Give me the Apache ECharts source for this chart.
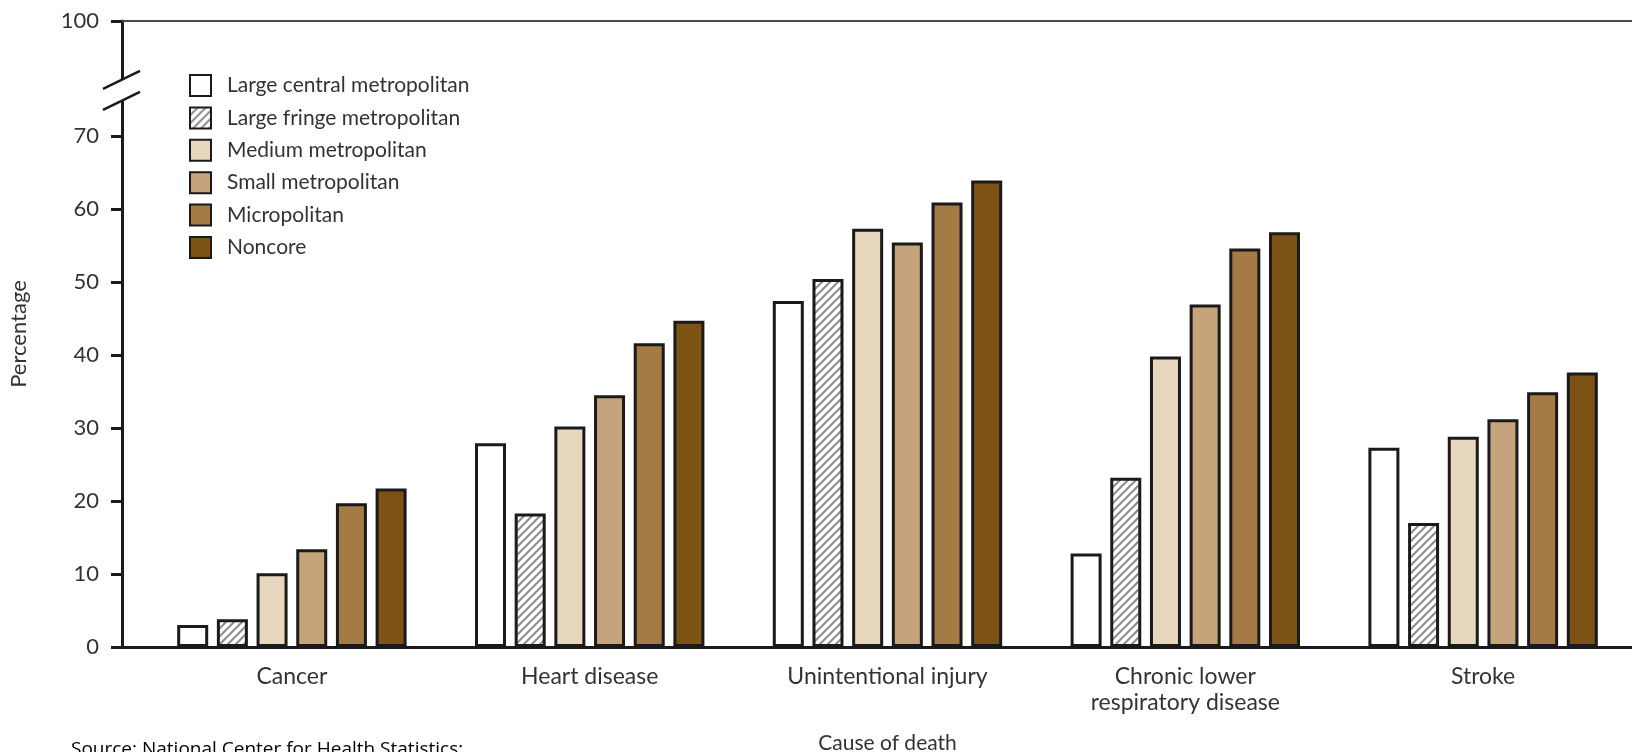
<!DOCTYPE html>
<html><head><meta charset="utf-8">
<script src="https://cdn.jsdelivr.net/npm/echarts@6/dist/echarts.min.js"></script>
<style>html,body{margin:0;padding:0;background:#fff}#c{width:1632px;height:752px}</style>
</head><body><div id="c"></div>
<script>
const categories = ['Cancer', 'Heart disease', 'Unintentional injury', 'Chronic lower\nrespiratory disease', 'Stroke'];
const seriesNames = ['Large central metropolitan', 'Large fringe metropolitan', 'Medium metropolitan', 'Small metropolitan', 'Micropolitan', 'Noncore'];
const largeCentral = [3.0, 27.9, 47.4, 12.8, 27.3];
const largeFringe  = [3.8, 18.3, 50.4, 23.2, 17.0];
const mediumMetro  = [10.1, 30.2, 57.3, 39.8, 28.8];
const smallMetro   = [13.4, 34.5, 55.4, 46.9, 31.2];
const micropolitan = [19.7, 41.6, 60.9, 54.6, 34.9];
const noncore      = [21.7, 44.7, 63.9, 56.8, 37.6];
const yTickValues = [0, 10, 20, 30, 40, 50, 60, 70];
const yTopLabel = '100';
const yAxisTop = 85.75;     // axis position where the broken scale shows "100"
const breakLow = 74.8;      // lower break mark (axis units)
const breakHigh = 77.7;     // upper break mark (axis units)

function hatchCanvas() {
  const c = document.createElement('canvas');
  c.width = 8; c.height = 8;
  const g = c.getContext('2d');
  g.fillStyle = '#ffffff'; g.fillRect(0, 0, 8, 8);
  g.strokeStyle = '#8c8c8c'; g.lineWidth = 2;
  g.beginPath();
  g.moveTo(-2, 10); g.lineTo(10, -2);
  g.moveTo(-6, 6); g.lineTo(6, -6);
  g.moveTo(2, 14); g.lineTo(14, 2);
  g.stroke();
  return c;
}
const fills = ['#ffffff', {image: hatchCanvas(), repeat: 'repeat'}, '#e7d7bf', '#c5a47c', '#a47a45', '#7c5315'];
const values = [largeCentral, largeFringe, mediumMetro, smallMetro, micropolitan, noncore];
const FONT = 'Lato';
const TXT = '#333333';

const chart = echarts.init(document.getElementById('c'), null, {renderer: 'canvas'});
const option = {
  animation: false,
  backgroundColor: '#ffffff',
  title: {
    text: 'Source: National Center for Health Statistics;',
    left: 66, top: 735,
    textStyle: {fontSize: 19, fontWeight: 'normal', color: '#000', fontFamily: 'Open Sans'}
  },
  legend: {
    data: seriesNames,
    orient: 'vertical',
    left: 184, top: 69,
    itemWidth: 21, itemHeight: 21, itemGap: 9.4,
    icon: 'rect',
    selectedMode: false,
    textStyle: {fontSize: 21, color: TXT, fontFamily: FONT, padding: [0, 0, 0, 11]}
  },
  grid: [
    {left: 143, right: 0, top: 21, bottom: 105, containLabel: false, outerBoundsMode: 'none'},
    {left: 122, right: 0, top: 21, bottom: 105, containLabel: false, outerBoundsMode: 'none'}
  ],
  xAxis: [
    {
      type: 'category', gridIndex: 0, data: categories,
      axisLine: {show: false}, axisTick: {show: false},
      axisLabel: {fontSize: 23, color: TXT, fontFamily: FONT, margin: 17, lineHeight: 26},
      name: 'Cause of death', nameLocation: 'middle', nameGap: 86,
      nameTextStyle: {fontSize: 21, color: TXT, fontFamily: FONT}
    },
    {
      type: 'value', gridIndex: 1, min: 0, max: 1, position: 'bottom',
      axisLine: {show: true, lineStyle: {color: '#1a1a1a', width: 3}},
      axisTick: {show: false}, axisLabel: {show: false}, splitLine: {show: false}
    },
    {
      type: 'value', gridIndex: 1, min: 0, max: 1, position: 'top',
      axisLine: {show: true, lineStyle: {color: '#4a4a4a', width: 2}},
      axisTick: {show: false}, axisLabel: {show: false}, splitLine: {show: false}
    }
  ],
  yAxis: [
    {type: 'value', gridIndex: 0, min: 0, max: yAxisTop, show: false},
    {
      type: 'value', gridIndex: 1, min: 0, max: yAxisTop,
      axisLine: {show: true, lineStyle: {color: '#1a1a1a', width: 3}},
      axisTick: {show: true, customValues: yTickValues.concat([yAxisTop]), length: 11, lineStyle: {color: '#1a1a1a', width: 3}},
      axisLabel: {
        customValues: yTickValues.concat([yAxisTop]),
        formatter: v => (v > yTickValues[yTickValues.length - 1] ? yTopLabel : String(v)),
        fontSize: 22, color: TXT, fontFamily: FONT, margin: 23
      },
      splitLine: {show: false},
      name: 'Percentage', nameLocation: 'middle', nameGap: 92,
      nameTextStyle: {fontSize: 22, color: TXT, fontFamily: FONT}
    }
  ],
  series: seriesNames.map((n, i) => ({
    name: n, type: 'bar', xAxisIndex: 0, yAxisIndex: 0,
    data: values[i],
    barWidth: 31, barGap: '28%',
    itemStyle: {color: fills[i], borderColor: '#1a1a1a', borderWidth: 3}
  }))
};
chart.setOption(option);

const x0 = chart.convertToPixel({xAxisIndex: 1}, 0);
const yLo = chart.convertToPixel({yAxisIndex: 1}, breakLow);
const yHi = chart.convertToPixel({yAxisIndex: 1}, breakHigh);
chart.setOption({
  graphic: [
    {type: 'rect', z: 100, shape: {x: x0 - 4, y: yHi, width: 8, height: yLo - yHi}, style: {fill: '#ffffff'}},
    {type: 'line', z: 101, shape: {x1: x0 - 19, y1: yLo + 9, x2: x0 + 18, y2: yLo - 9}, style: {stroke: '#1a1a1a', lineWidth: 2.5}},
    {type: 'line', z: 101, shape: {x1: x0 - 19, y1: yHi + 9, x2: x0 + 18, y2: yHi - 9}, style: {stroke: '#1a1a1a', lineWidth: 2.5}}
  ]
});
</script>
</body></html>
